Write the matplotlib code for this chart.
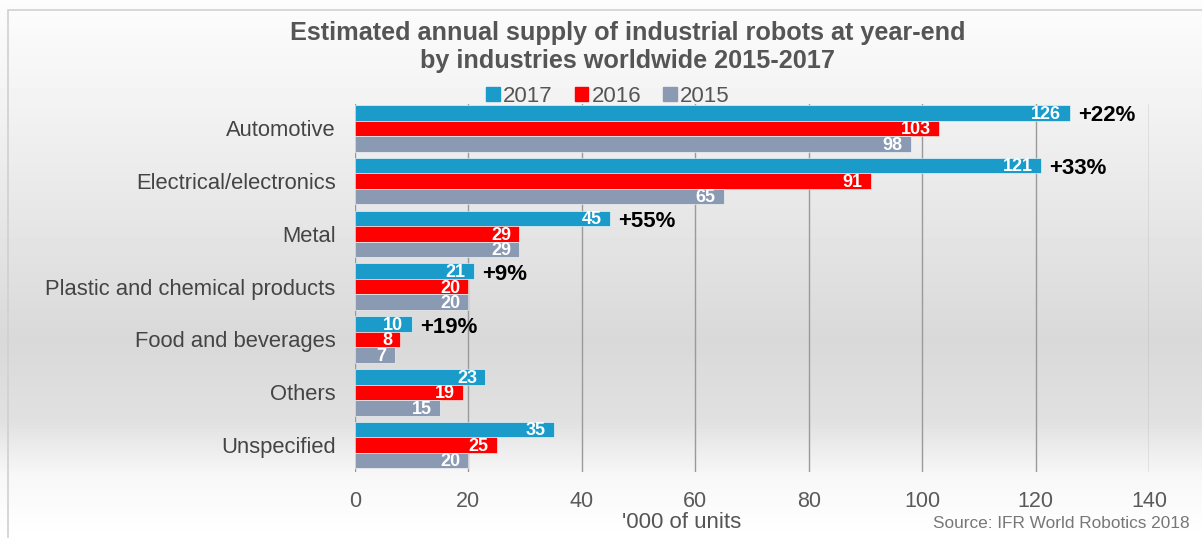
import numpy as np
import matplotlib
matplotlib.use("Agg")
from matplotlib import pyplot as plt
from matplotlib.patches import Patch, Rectangle

industries = ["Automotive", "Electrical/electronics", "Metal",
              "Plastic and chemical products", "Food and beverages",
              "Others", "Unspecified"]
years = ["2017", "2016", "2015"]
v2017 = [126, 121, 45, 21, 10, 23, 35]
v2016 = [103, 91, 29, 20, 8, 19, 25]
v2015 = [98, 65, 29, 20, 7, 15, 20]
growth = ["+22%", "+33%", "+55%", "+9%", "+19%", "", ""]
xticks = [0, 20, 40, 60, 80, 100, 120, 140]

colors = ["#1a9bca", "#ff0000", "#8a9ab2"]
plt.rcParams["font.family"] = ["Liberation Sans", "DejaVu Sans"]

fig = plt.figure(figsize=(12.02, 5.38), dpi=100)

# background gradient (vertical: white -> grey -> white)
bg = fig.add_axes([0, 0, 1, 1], zorder=-10)
rows = np.arange(538)
shade = np.interp(rows, [0, 80, 200, 340, 420, 475, 538],
                  [0.99, 0.96, 0.91, 0.85, 0.88, 0.97, 1.0])
img = np.repeat(shade[:, None], 10, axis=1)
bg.imshow(img, cmap="gray", vmin=0, vmax=1, aspect="auto",
          extent=[0, 1, 0, 1])
bg.set_axis_off()
fig.patches.append(Rectangle((8 / 1202, -0.01), 1.0, (528 / 538) + 0.01,
                             transform=fig.transFigure, fill=False,
                             edgecolor="#d0d0d0", lw=1.2))

ax = fig.add_axes([355 / 1202, (538 - 472) / 538,
                   (1149 - 355) / 1202, (472 - 104) / 538])
ax.set_facecolor("none")

y = np.arange(len(industries))
h = 0.294
for vals, off, c in zip([v2017, v2016, v2015], [-h, 0, h], colors):
    bars = ax.barh(y + off, vals, height=h, color=c, edgecolor="white",
                   linewidth=0.4, zorder=3)
    for b, v in zip(bars, vals):
        ax.annotate(str(v), (v, b.get_y() + b.get_height() / 2),
                    xytext=(-6, -1), textcoords="offset points",
                    ha="right", va="center", color="white",
                    fontsize=13, fontweight="bold", zorder=4)

for yi, v, g in zip(y, v2017, growth):
    if g:
        ax.annotate(g, (v, yi - h + 0.06), xytext=(6, 0),
                    textcoords="offset points", ha="left", va="center",
                    fontsize=16, fontweight="bold", color="black")

ax.set_xlim(0, 140)
ax.set_ylim(6.51, -0.46)
ax.set_xticks(xticks)
ax.set_xticklabels([str(t) for t in xticks], fontsize=15.5,
                   color="#5a5a5a")
ax.set_yticks(y)
ax.set_yticklabels(industries, fontsize=15.8, color="#444444")
ax.tick_params(length=0)
ax.tick_params(axis="x", pad=14)
ax.tick_params(axis="y", pad=14)
ax.grid(axis="x", color="#9a9a9a", lw=1, zorder=0)
for s in ax.spines.values():
    s.set_visible(False)

fig.text(628 / 1202, 1 - 33 / 538,
         "Estimated annual supply of industrial robots at year-end",
         ha="center", va="center", fontsize=18.2, fontweight="bold",
         color="#555555")
fig.text(628 / 1202, 1 - 61 / 538, "by industries worldwide 2015-2017",
         ha="center", va="center", fontsize=18.2, fontweight="bold",
         color="#555555")

handles = [Patch(color=c) for c in colors]
leg = fig.legend(handles, years, loc="center", ncol=3,
                 bbox_to_anchor=(608 / 1202, 1 - 96 / 538), frameon=False,
                 handlelength=0.6, handleheight=0.6, handletextpad=0.15,
                 columnspacing=1.0, prop={"size": 16})
for t in leg.get_texts():
    t.set_color("#555555")

fig.text(682 / 1202, 1 - 522 / 538, "'000 of units", ha="center",
         va="center", fontsize=16, color="#555555")
fig.text(1190 / 1202, 1 - 524 / 538, "Source: IFR World Robotics 2018",
         ha="right", va="center", fontsize=12.4, color="#777777")

fig.savefig("out.png", dpi=100)
